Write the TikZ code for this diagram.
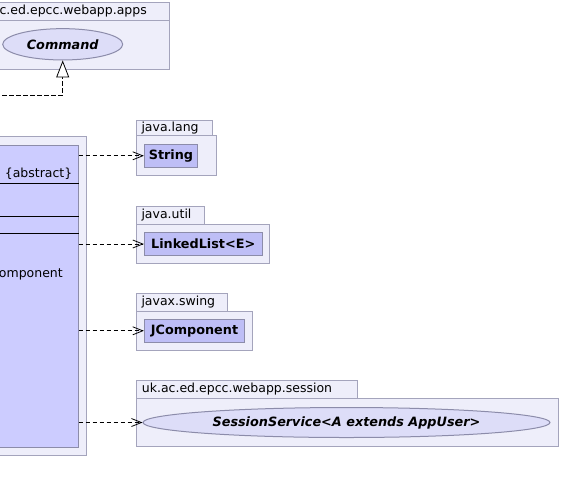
\documentclass[tikz,border=0pt]{standalone}
\usepackage{fontspec}
\setmainfont{DejaVu Sans}
\usetikzlibrary{arrows.meta,shapes.geometric}
\definecolor{pkgfill}{HTML}{EEEEFA}
\definecolor{pkgline}{HTML}{A4A4BC}
\definecolor{mainfill}{HTML}{CCCCFF}
\definecolor{clsfill}{HTML}{BEBEF6}
\definecolor{clsline}{HTML}{8C8CAA}
\definecolor{ifill}{HTML}{DDDDF8}
\begin{document}
\begin{tikzpicture}[x=1pt,y=-1pt,
  pkg/.style={draw=pkgline, fill=pkgfill, line width=1pt},
  cls/.style={draw=clsline, fill=clsfill, line width=1pt, font=\bfseries\fontsize{12.8}{15}\selectfont, inner sep=0pt},
  iface/.style={ellipse, draw=clsline, fill=ifill, line width=1pt, font=\bfseries\itshape\fontsize{12.8}{15}\selectfont, inner sep=0pt},
  lbl/.style={font=\fontsize{12.5}{15}\selectfont, inner sep=0pt},
  sep/.style={draw=black, line width=1pt},
  dep/.style={draw=black, line width=0.8pt, dash pattern=on 4.5pt off 2.5pt, -{Straight Barb[length=10pt,width=8pt]}},
  real/.style={draw=black, line width=0.8pt, dash pattern=on 4.5pt off 2.5pt, -{Triangle[open,length=17pt,width=13pt,fill=white]}}]
\useasboundingbox (0,0) rectangle (561,493);
\clip (0,0) rectangle (561,493);
% top package
\path[pkg] (-20,2.7) rectangle (169.3,20);
\path[pkg] (-20,20) rectangle (169.3,69);
\node[lbl, anchor=east] (appsname) at (147,11.5) {c.ed.epcc.webapp.apps};
\node[iface, minimum width=120, minimum height=31.3] (command) at (62.7,44.3) {Command};
% main class
\path[pkg] (-20,136.7) rectangle (86.7,455.7);
\node[cls, fill=mainfill, anchor=north east, minimum width=100, minimum height=302.3] (main) at (78.7,145) {};
\draw[sep] (-21.3,183.3) -- (78.7,183.3);
\draw[sep] (-21.3,216.7) -- (78.7,216.7);
\draw[sep] (-21.3,233.3) -- (78.7,233.3);
\node[lbl, anchor=east] (abs) at (72.5,174) {\{abstract\}};
\node[lbl, anchor=east] (comp) at (63,274.5) {omponent};
% java.lang
\path[pkg] (136.7,120) rectangle (212.7,135.7);
\path[pkg] (136.7,135.7) rectangle (216,175.7);
\node[lbl, anchor=west] (langname) at (141.3,127.8) {java.lang};
\node[cls, minimum width=53.4, minimum height=22.7] (string) at (171,155.8) {String};
% java.util
\path[pkg] (136.7,206.7) rectangle (204,224.3);
\path[pkg] (136.7,224.3) rectangle (269.3,263.3);
\node[lbl, anchor=west] (utilname) at (141.3,215.5) {java.util};
\node[cls, minimum width=117.7, minimum height=23.4] (list) at (203.2,244) {LinkedList<E>};
% javax.swing
\path[pkg] (136.7,293.3) rectangle (227.7,311);
\path[pkg] (136.7,311) rectangle (252.7,350);
\node[lbl, anchor=west] (swingname) at (141.3,302) {javax.swing};
\node[cls, minimum width=100.4, minimum height=23] (jcomp) at (194.5,330.8) {JComponent};
% session
\path[pkg] (136.7,380.7) rectangle (357.3,398);
\path[pkg] (136.7,398) rectangle (558.3,446.7);
\node[lbl, anchor=west] (sessname) at (141.7,389.3) {uk.ac.ed.epcc.webapp.session};
\node[iface, minimum width=407, minimum height=30] (session) at (346.5,422.5) {SessionService<A extends AppUser>};
% connectors
\draw[dep] (main.east |- string.west) -- (string.west);
\draw[dep] (main.east |- list.west) -- (list.west);
\draw[dep] (main.east |- jcomp.west) -- (jcomp.west);
\draw[dep] (main.east |- session.west) -- (session.west);
\coordinate (rl) at (-5,95);
\draw[real] (rl) -| (command.south);
\end{tikzpicture}
\end{document}
